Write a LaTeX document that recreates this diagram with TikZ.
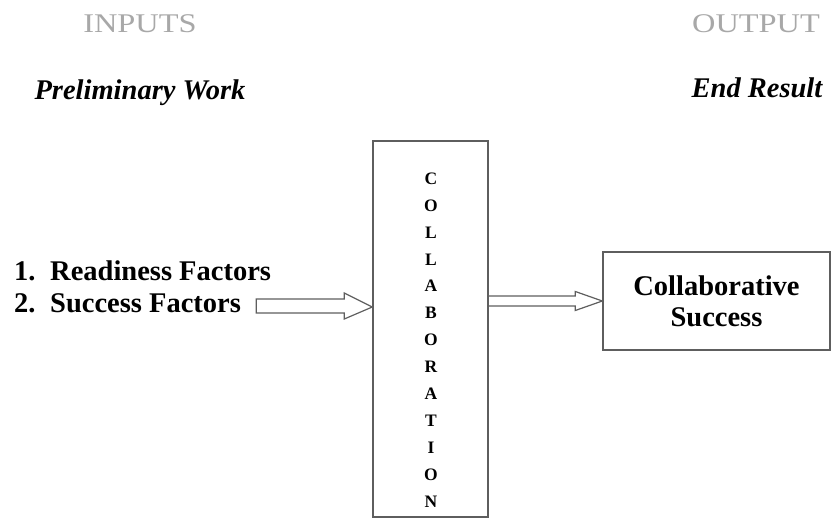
\documentclass[tikz,border=0pt]{standalone}
\usepackage{fontspec}
\setmainfont{Liberation Serif}
\definecolor{boxgray}{HTML}{5E5E5E}
\definecolor{titlegray}{HTML}{A8A8A8}
\begin{document}
\begin{tikzpicture}[x=1pt,y=-1pt,
  frame/.style={draw=boxgray, line width=1.4pt, fill=white, inner sep=0pt},
  blockarrow/.style={draw=boxgray, line width=1.2pt, fill=white, line join=miter},
  heading/.style={font=\fontsize{28.5}{32}\selectfont\bfseries\itshape, anchor=base, inner sep=0pt},
  ghost/.style={text=titlegray, font=\fontsize{27}{30}\selectfont, anchor=base, inner sep=0pt},
  big/.style={font=\fontsize{28.5}{32}\selectfont\bfseries, inner sep=0pt},
  letters/.style={font=\fontsize{17.5}{26.9}\selectfont\bfseries, align=center, inner sep=0pt}
]
\useasboundingbox (0,0) rectangle (833,518);
% titles
\node[ghost] (inputs) at (140,33) {\scalebox{1.2}[1]{INPUTS}};
\node[ghost] (output) at (756,33) {\scalebox{1.2}[1]{OUTPUT}};
\node[heading] (prelim) at (140,100) {Preliminary Work};
\node[heading] (endres) at (757,98) {End Result};
% list
\node[big, anchor=base west] (n1) at (14,281) {1.};
\node[big, anchor=base west] (f1) at (50,281) {Readiness Factors};
\node[big, anchor=base west] (n2) at (14,313) {2.};
\node[big, anchor=base west] (f2) at (50,313) {Success Factors};
% boxes
\node[frame, minimum width=115pt, minimum height=376pt] (collab) at (430.5,329) {};
\node[letters] (collabtxt) at (431,340) {C\\O\\L\\L\\A\\B\\O\\R\\A\\T\\I\\O\\N};
\node[frame, big, align=center, minimum width=227pt, minimum height=98pt] (cs) at (716.5,301) {Collaborative\\[-1pt]Success};
% arrows
\coordinate (lrow) at (0,307);
\coordinate (ltip) at (collab.west |- lrow);
\draw[blockarrow] (ltip) -- ++(-28,-14) -- ++(0,6) -- ++(-88,0) -- ++(0,14) -- ++(88,0) -- ++(0,6) -- cycle;
\draw[blockarrow] (cs.west) -- ++(-27,-9.5) -- ++(0,4.5) -- ++(-87,0) -- ++(0,10) -- ++(87,0) -- ++(0,4.5) -- cycle;
\end{tikzpicture}
\end{document}
